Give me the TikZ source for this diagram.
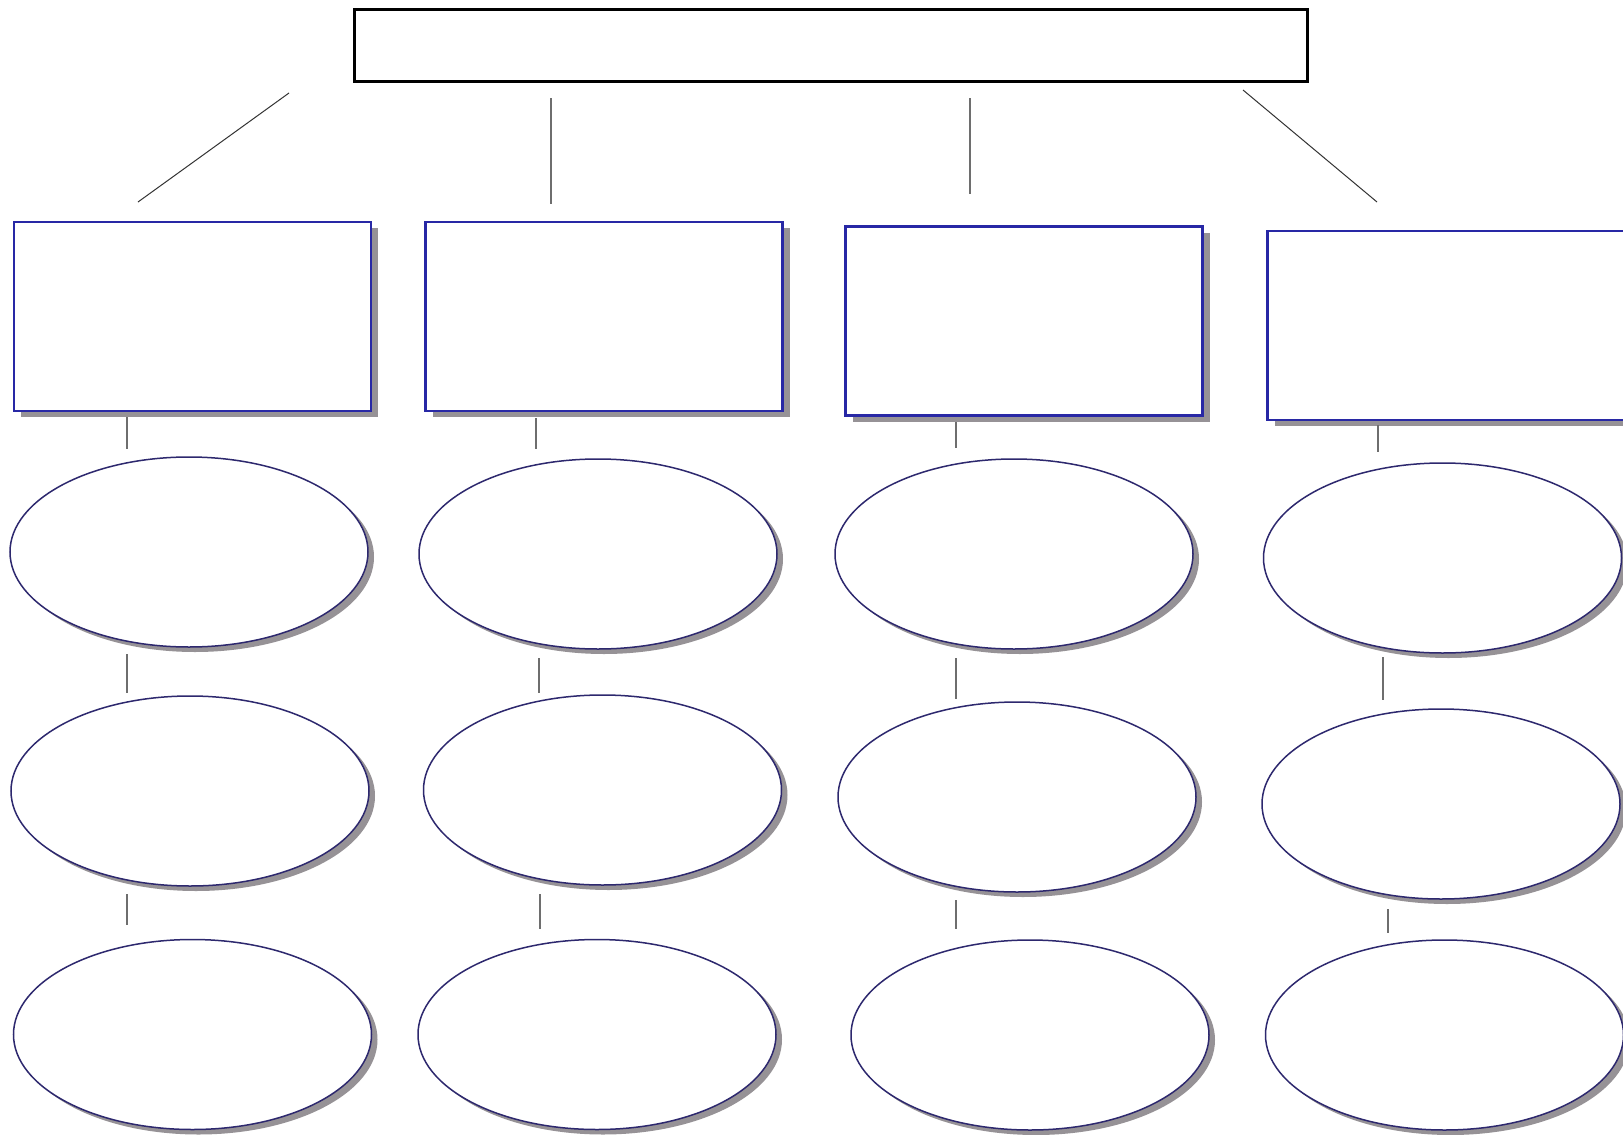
\documentclass[tikz,border=0pt]{standalone}
\usetikzlibrary{shadows,shapes.geometric}
\definecolor{boxblue}{RGB}{40,40,165}
\definecolor{ellline}{RGB}{45,40,110}
\definecolor{shadowgray}{RGB}{150,146,150}
\definecolor{linkgray}{RGB}{110,110,110}
\tikzset{
  topbox/.style={draw=black,line width=3.2pt,fill=white,minimum width=953pt,minimum height=72pt,inner sep=0pt},
  catbox/.style={draw=boxblue,line width=2.3pt,fill=white,minimum width=357pt,minimum height=189pt,inner sep=0pt,
    drop shadow={shadow xshift=7pt,shadow yshift=-6pt,fill=shadowgray,opacity=1}},
  oval/.style={ellipse,draw=ellline,line width=1.5pt,fill=white,minimum width=358pt,minimum height=190pt,inner sep=0pt,
    drop shadow={shadow xshift=6pt,shadow yshift=-5pt,fill=shadowgray,opacity=1}},
  link/.style={draw=linkgray,line width=1.2pt},
  toplink/.style={draw=black!80,line width=1pt}
}
\begin{document}
\begin{tikzpicture}[x=1pt,y=-1pt]
\useasboundingbox (0,0) rectangle (1623,1135);
\clip (0,0) rectangle (1623,1135);
\fill[white] (0,0) rectangle (1623,1135);
% top box
\node[topbox] (top) at (831,45.5) {};
% category boxes
\node[catbox] (b1) at (192.5,316.5) {};
\node[catbox] (b2) at (604,316.5) {};
\node[catbox] (b3) at (1024,321) {};
\node[catbox] (b4) at (1446,325.5) {};
% ellipses
\node[oval] (e11) at (189,552) {};
\node[oval] (e12) at (598,554) {};
\node[oval] (e13) at (1014,554) {};
\node[oval] (e14) at (1442.5,558) {};
\node[oval] (e21) at (190,791) {};
\node[oval] (e22) at (602.5,790) {};
\node[oval] (e23) at (1017,797) {};
\node[oval] (e24) at (1441,804) {};
\node[oval] (e31) at (192.5,1034.5) {};
\node[oval] (e32) at (597,1034.5) {};
\node[oval] (e33) at (1030,1035) {};
\node[oval] (e34) at (1444.5,1035) {};
% connector end points
\coordinate (t1a) at (289,93);   \coordinate (t1b) at (138,202);
\coordinate (t2a) at (551,98);   \coordinate (t2b) at (551,204);
\coordinate (t3a) at (970,98);   \coordinate (t3b) at (970,194);
\coordinate (t4a) at (1243,90);  \coordinate (t4b) at (1377,202);
\coordinate (c1a) at (127,417);  \coordinate (c1b) at (127,449);
\coordinate (c2a) at (536,418);  \coordinate (c2b) at (536,449);
\coordinate (c3a) at (956,422);  \coordinate (c3b) at (956,448);
\coordinate (c4a) at (1378,425); \coordinate (c4b) at (1378,452);
\coordinate (d1a) at (127,654);  \coordinate (d1b) at (127,693);
\coordinate (d2a) at (539,658);  \coordinate (d2b) at (539,693);
\coordinate (d3a) at (956,658);  \coordinate (d3b) at (956,699);
\coordinate (d4a) at (1383,657); \coordinate (d4b) at (1383,700);
\coordinate (f1a) at (127,894);  \coordinate (f1b) at (127,925);
\coordinate (f2a) at (540,894);  \coordinate (f2b) at (540,929);
\coordinate (f3a) at (956,900);  \coordinate (f3b) at (956,929);
\coordinate (f4a) at (1388,909); \coordinate (f4b) at (1388,933);
% connectors
\draw[toplink] (t1a) -- (t1b);
\draw[link] (t2a) -- (t2b);
\draw[link] (t3a) -- (t3b);
\draw[toplink] (t4a) -- (t4b);
\foreach \n in {c1,c2,c3,c4,d1,d2,d3,d4,f1,f2,f3,f4}{
  \draw[link] (\n a) -- (\n b);
}
\end{tikzpicture}
\end{document}
